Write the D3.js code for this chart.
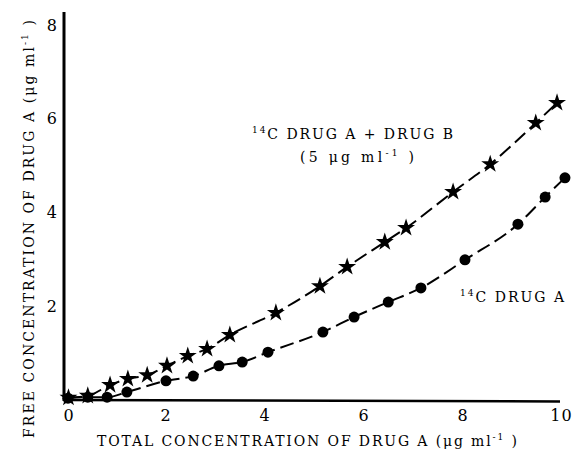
<!DOCTYPE html>
<html><head><meta charset="utf-8">
<script src="https://cdn.jsdelivr.net/npm/d3@7"></script>
<style>
body{margin:0;background:#fff;}
text{font-family:"DejaVu Serif","Liberation Serif",serif;fill:#000;}
.t{font-family:"DejaVu Serif","Liberation Serif",serif;}
</style></head>
<body><svg id="c" width="576" height="453"></svg>
<script>
// Series: 14C drug A + drug B (stars)
const starX = [0.05,0.44,0.89,1.25,1.64,2.04,2.46,2.85,3.31,4.24,5.13,5.68,6.44,6.87,7.82,8.57,9.49,9.92];
const starY = [0.05,0.09,0.32,0.45,0.53,0.73,0.94,1.09,1.39,1.86,2.43,2.84,3.37,3.67,4.44,5.03,5.91,6.34];
// Series: 14C drug A (circles)
const circX = [0.04,0.44,0.83,1.23,2.02,2.57,3.09,3.56,4.08,5.19,5.82,6.51,7.17,8.06,9.13,9.68,10.08];
const circY = [0.04,0.06,0.06,0.17,0.41,0.51,0.73,0.81,1.02,1.45,1.77,2.09,2.39,2.99,3.75,4.33,4.74];
const xTicks = [0,2,4,6,8,10];
const yTicks = [2,4,6,8];

const svg = d3.select("#c");
const x = d3.scaleLinear().domain([0,10]).range([66,561]);
const y = d3.scaleLinear().domain([0,8]).range([400,25]);

function fit(sel, target){
  const n = sel.node();
  const len = n.getComputedTextLength();
  const chars = n.textContent.length;
  sel.attr("letter-spacing", ((target-len)/Math.max(1,chars-1)).toFixed(2));
}

// axes lines
svg.append("line").attr("x1",64).attr("x2",64).attr("y1",12).attr("y2",401)
  .attr("stroke","#000").attr("stroke-width",3);
svg.append("line").attr("x1",63).attr("x2",560).attr("y1",400).attr("y2",401.5)
  .attr("stroke","#000").attr("stroke-width",2.5);

// tick labels
const xa = svg.append("g").attr("transform","translate(0,401)")
  .call(d3.axisBottom(x).tickValues(xTicks).tickSize(0).tickPadding(5).tickFormat(d3.format("d")));
xa.select(".domain").remove();
xa.selectAll("text").style("font-size","16px").style("font-family","DejaVu Serif, serif").attr("dy","0.95em");
xa.selectAll("text").filter(d=>d===0).attr("dx","2");
xa.selectAll("text").filter(d=>d===10).attr("letter-spacing","1");
const ya = svg.append("g").attr("transform","translate(60,0)")
  .call(d3.axisLeft(y).tickValues(yTicks).tickSize(0).tickPadding(3).tickFormat(d3.format("d")));
ya.select(".domain").remove();
ya.selectAll("text").style("font-size","16px").style("font-family","DejaVu Serif, serif");

// lines
const line = d3.line().x(d=>x(d[0])).y(d=>y(d[1])).curve(d3.curveMonotoneX);
const starPts = starX.map((v,i)=>[v,starY[i]]);
const circPts = circX.map((v,i)=>[v,circY[i]]);
svg.append("path").attr("d",line(starPts)).attr("fill","none").attr("stroke","#000")
  .attr("stroke-width",2).attr("stroke-dasharray","14,6");
svg.append("path").attr("d",line(circPts)).attr("fill","none").attr("stroke","#000")
  .attr("stroke-width",2).attr("stroke-dasharray","14,6");

// markers
const star = d3.symbol().type(d3.symbolStar).size(100);
svg.append("g").selectAll("path").data(starPts).join("path")
  .attr("d",star).attr("transform",d=>`translate(${x(d[0])},${y(d[1])})`).attr("fill","#000");
svg.append("g").selectAll("circle").data(circPts).join("circle")
  .attr("cx",d=>x(d[0])).attr("cy",d=>y(d[1])).attr("r",5.5).attr("fill","#000");

// axis titles
const xt = svg.append("text").attr("class","t").attr("x",97).attr("y",446).style("font-size","14px");
xt.append("tspan").text("TOTAL CONCENTRATION OF DRUG A (\u03bcg ml");
xt.append("tspan").attr("dy",-6).style("font-size","9px").text("-1");
xt.append("tspan").attr("dy",6).text(" )");
fit(xt, 420);

const yt = svg.append("text").attr("class","t").attr("transform","translate(34,438) rotate(-90)").style("font-size","14px");
yt.append("tspan").text("FREE CONCENTRATION OF DRUG A (\u03bcg ml");
yt.append("tspan").attr("dy",-6).style("font-size","9px").text("-1");
yt.append("tspan").attr("dy",6).text(" )");
fit(yt, 418);

// annotations
const a1 = svg.append("text").attr("class","t").attr("x",252).attr("y",139).style("font-size","14px");
a1.append("tspan").attr("dy",-6).style("font-size","9px").text("14");
a1.append("tspan").attr("dy",6).text("C DRUG A + DRUG B");
fit(a1, 201);
const a2 = svg.append("text").attr("class","t").attr("x",300).attr("y",162).style("font-size","14px");
a2.append("tspan").text("(5 \u03bcg ml");
a2.append("tspan").attr("dy",-6).style("font-size","9px").text("-1");
a2.append("tspan").attr("dy",6).text(" )");
fit(a2, 114);
const a3 = svg.append("text").attr("class","t").attr("x",460).attr("y",302).style("font-size","14px");
a3.append("tspan").attr("dy",-6).style("font-size","9px").text("14");
a3.append("tspan").attr("dy",6).text("C DRUG A");
fit(a3, 104);
</script></body></html>
